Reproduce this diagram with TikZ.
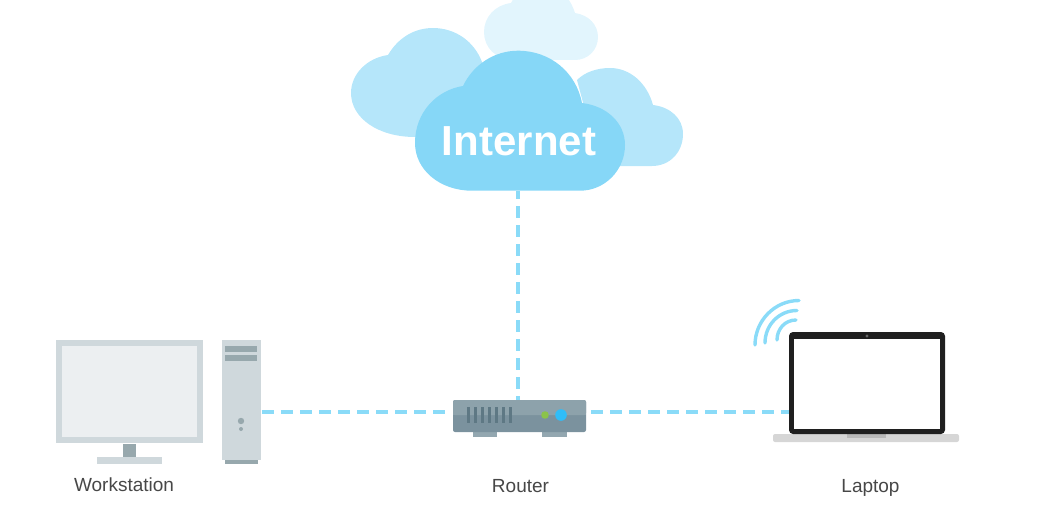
\documentclass[tikz,border=0pt]{standalone}
\usepackage{fontspec}
\setmainfont{Liberation Sans}
\definecolor{cloudmain}{HTML}{86D7F7}
\definecolor{cloudmid}{HTML}{B5E6FA}
\definecolor{cloudpale}{HTML}{E2F5FD}
\definecolor{linkblue}{HTML}{8ADBF8}
\definecolor{frame}{HTML}{CFD8DC}
\definecolor{screen}{HTML}{ECEFF1}
\definecolor{slate}{HTML}{97A8AD}
\definecolor{routertop}{HTML}{8DA2AB}
\definecolor{routerlow}{HTML}{7B929E}
\definecolor{routerfoot}{HTML}{93A7B0}
\definecolor{slotc}{HTML}{5E7884}
\definecolor{ledgreen}{HTML}{8BC34A}
\definecolor{ledblue}{HTML}{2FBDF8}
\definecolor{labelc}{HTML}{474747}
\tikzset{
  box/.style={draw=none,inner sep=0pt,outer sep=0pt,rectangle},
  link/.style={draw=linkblue,line width=3.2pt,dash pattern=on 11.5pt off 7.5pt},
  wifi/.style={draw=linkblue,line width=3.4pt,line cap=round},
  caption/.style={text=labelc,font=\fontsize{19}{22}\selectfont,inner sep=0pt,anchor=base}
}
\begin{document}
\begin{tikzpicture}[x=1pt,y=-1pt]
\useasboundingbox (0,0) rectangle (1049,519);
\clip (0,0) rectangle (1049,519);
% pale cloud
\fill[cloudpale] (515,60) .. controls (495,60) and (484,47) .. (484,32)
  .. controls (484,17) and (495,5) .. (511,3)
  .. controls (516,-8) and (530,-16) .. (543,-16)
  .. controls (558,-16) and (570,-3) .. (575,13)
  .. controls (589,15) and (598,25) .. (598,37)
  .. controls (598,50) and (588,60) .. (575,60) -- cycle;
% left cloud
\fill[cloudmid] (415,137) .. controls (378,137) and (351,118) .. (351,93)
  .. controls (351,74) and (367,58) .. (388,55)
  .. controls (398,38) and (414,28) .. (433,28)
  .. controls (455,28) and (474,41) .. (482,62)
  -- (500,137) -- cycle;
% right cloud
\fill[cloudmid] (577,80) .. controls (585,72) and (597,68) .. (610,68)
  .. controls (630,68) and (647,83) .. (653,105)
  .. controls (670,107) and (683,118) .. (683,134)
  .. controls (683,152) and (670,166) .. (652,166)
  -- (600,166) -- cycle;
% main cloud
\fill[cloudmain] (472,190.7) .. controls (440,190.7) and (415,170) .. (415,143)
  .. controls (415,112) and (437,90) .. (463,86)
  .. controls (473,65) and (494,50.7) .. (518,50.7)
  .. controls (550,50.7) and (576,72) .. (582,103)
  .. controls (607,106) and (625,123) .. (625,145)
  .. controls (625,170) and (605,190.7) .. (580,190.7) -- cycle;
\node[inner sep=0pt,text=white,font=\fontsize{42}{46}\selectfont\bfseries] (internet) at (519,141) {Internet};
\coordinate (cloudfoot) at (518,191);
% workstation monitor
\fill[frame] (97,457) rectangle (162,464);
\fill[slate] (123,444) rectangle (136,457);
\node[box,fill=frame,minimum width=147.5pt,minimum height=103.5pt] (monitor) at (129.5,391.7) {};
\fill[screen] (62,346) rectangle (197,437);
% tower
\node[box,fill=frame,minimum width=39pt,minimum height=120pt] (tower) at (241.5,400) {};
\fill[slate] (225,346) rectangle (257,351.5);
\fill[slate] (225,355) rectangle (257,361);
\fill[slate] (225,460) rectangle (258,464);
\fill[slate] (241,421) circle (3.2pt);
\fill[slate] (241,429) circle (2pt);
\coordinate (towerport) at (262,412);
% router
\fill[routerfoot] (473,430) rectangle (497,437);
\fill[routerfoot] (542,430) rectangle (567,437);
\node[box,fill=routerlow,rounded corners=2pt,minimum width=133pt,minimum height=32pt] (router) at (519.5,416) {};
\fill[routertop,rounded corners=2pt] (453,400) rectangle (586,415);
\fill[routertop] (453,410) rectangle (586,415);
\foreach \sx in {468,475,482,489,496,503,510}
  \draw[slotc,line width=3pt] (\sx,407) -- (\sx,423);
\fill[ledgreen] (545,415) circle (3.8pt);
\fill[ledblue] (561,415) circle (5.8pt);
\coordinate (routerW) at (450,412);
\coordinate (routerE) at (586,412);
% laptop
\fill[gray!32,rounded corners=2pt] (773,434) rectangle (959,442);
\fill[gray!55] (847,434) rectangle (886,438);
\node[box,fill=black!88,rounded corners=4pt,minimum width=156pt,minimum height=102pt] (laptop) at (867,383) {};
\fill[white] (794,339) rectangle (940,429);
\fill[black!60] (867,336) circle (1.6pt);
\coordinate (laptopport) at (789,412);
% wifi
\draw[wifi] (755,345) .. controls (755,320.7) and (774.7,300.5) .. (799,300.5);
\draw[wifi] (765,343) .. controls (765,325) and (779,310.5) .. (797,310.5);
\draw[wifi] (777,340) .. controls (777,329) and (785,320) .. (796,320);
% connectors
\draw[link,dash phase=4pt] (cloudfoot) -- (router.north -| cloudfoot);
\draw[link] (towerport) -- (routerW);
\draw[link,dash phase=14pt] (routerE) -- (laptopport);
% labels
\node[caption] (lw) at (124,491) {Workstation};
\node[caption] (lr) at (520.5,492.5) {Router};
\node[caption] (ll) at (870.5,492) {Laptop};
\end{tikzpicture}
\end{document}
